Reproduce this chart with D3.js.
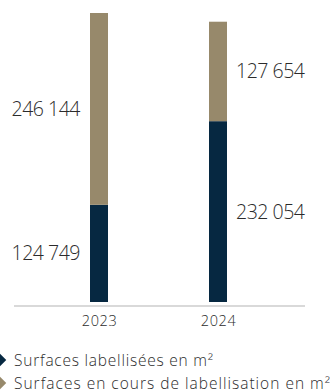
<!DOCTYPE html>
<html><head><meta charset="utf-8">
<script src="https://cdn.jsdelivr.net/npm/d3@7"></script>
<style>body{margin:0;background:#fff}svg{display:block}text{font-family:"Open Sans",sans-serif;font-weight:300;fill:#2b2b2b}</style>
</head><body>
<script>
const years = ["2023", "2024"];
const labelled = [124749, 232054];
const inProgress = [246144, 127654];
const seriesNames = ["Surfaces labellisées en m²", "Surfaces en cours de labellisation en m²"];
const colors = ["#062841", "#97896b"];

const W = 332, H = 392;
const svg = d3.select("body").append("svg").attr("width", W).attr("height", H);

function fitSpacing(sel, target) {
  sel.each(function () {
    const len = this.getComputedTextLength();
    const n = this.textContent.length;
    if (len > 0 && n > 1) this.style.letterSpacing = ((target - len) / (n - 1)) + "px";
  });
}

const x2 = d3.scalePoint().domain(years).range([99, 218]);
const totals = years.map((d, i) => labelled[i] + inProgress[i]);
const y = d3.scaleLinear().domain([0, d3.max(totals)]).range([302, 13]);
const fmt = v => d3.format(",")(v).replace(/,/g, " ");

const data = years.map((yr, i) => ({yr, a: labelled[i], b: inProgress[i]}));
const bw = 18;
const g = svg.append("g");
data.forEach((d, i) => {
  const cx = x2(d.yr);
  g.append("rect").attr("x", cx - bw/2).attr("width", bw)
    .attr("y", y(d.a)).attr("height", y(0) - y(d.a)).attr("fill", colors[0]);
  g.append("rect").attr("x", cx - bw/2).attr("width", bw)
    .attr("y", y(d.a + d.b)).attr("height", y(d.a) - y(d.a + d.b)).attr("fill", colors[1]);
  const left = i === 0;
  const tx = left ? cx - bw/2 - 10 : cx + bw/2 + 9;
  const anchor = left ? "end" : "start";
  [[0, d.a], [d.a, d.a + d.b]].forEach(([lo, hi]) => {
    g.append("text").attr("x", tx).attr("y", (y(lo) + y(hi)) / 2)
      .attr("dy", "0.36em").attr("text-anchor", anchor).style("font-size", "19.5px")
      .text(fmt(hi - lo)).call(fitSpacing, 69);
  });
});

// axis
const axis = d3.axisBottom(x2).tickSize(0).tickPadding(0);
const ax = svg.append("g").attr("transform", "translate(0,306)").call(axis);
ax.select(".domain").remove();
ax.selectAll("text").attr("y", 20).attr("dy", 0).attr("fill", null)
  .style("font-family", '"Open Sans",sans-serif').style("font-weight", 300).style("fill", "#2b2b2b")
  .style("font-size", "14.5px").style("letter-spacing", "0.6px");
svg.append("line").attr("x1", 14).attr("x2", 305).attr("y1", 306).attr("y2", 306)
  .attr("stroke", "#b3b3b3").attr("stroke-width", 1);

// legend
const lg = svg.append("g");
const targets = [199, 316];
seriesNames.forEach((name, i) => {
  const cy = 360 + i * 23;
  lg.append("path").attr("d", d3.symbol(d3.symbolDiamond2, 100)()).attr("transform", `translate(0,${cy})`).attr("fill", colors[i]);
  lg.append("text").attr("x", 14).attr("y", cy + 5.5).style("font-size", "15.5px").text(name).call(fitSpacing, targets[i]);
});
</script>
</body></html>
